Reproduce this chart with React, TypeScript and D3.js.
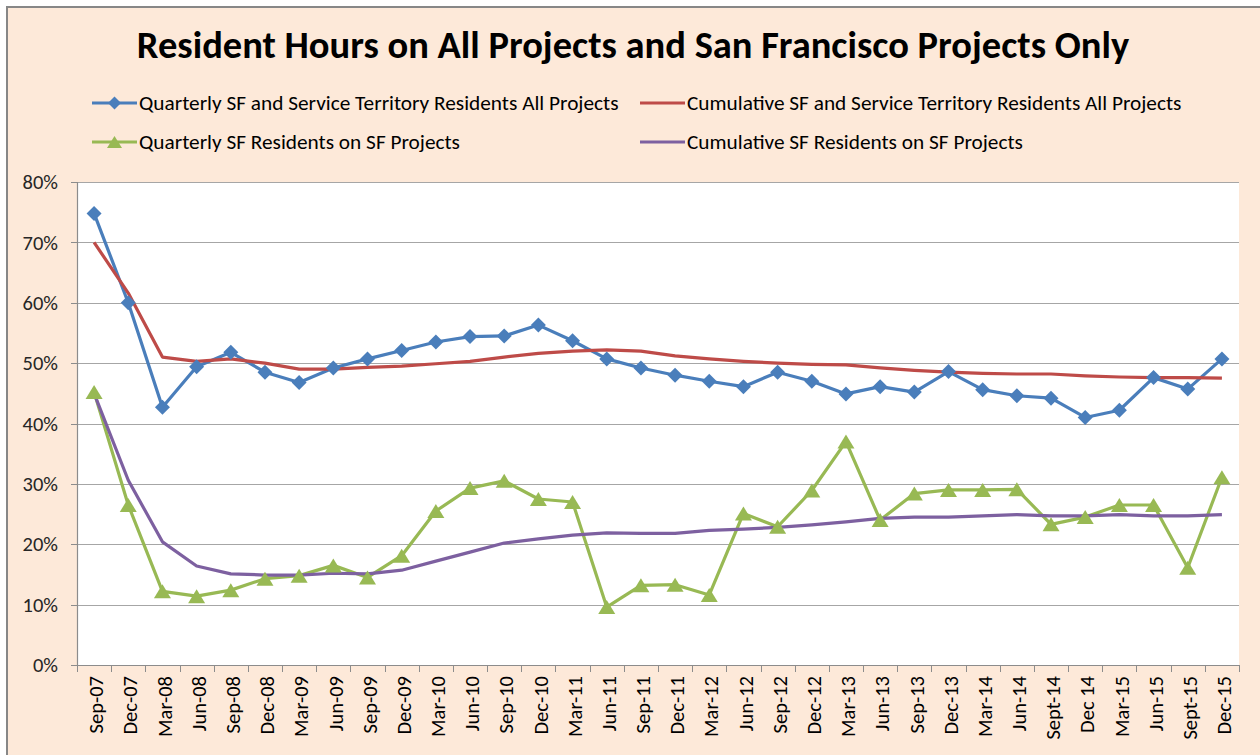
import React, { useEffect, useRef } from "react";
import * as d3 from "d3";

const quarters = [
  "Sep-07", "Dec-07", "Mar-08", "Jun-08", "Sep-08", "Dec-08", "Mar-09", "Jun-09",
  "Sep-09", "Dec-09", "Mar-10", "Jun-10", "Sep-10", "Dec-10", "Mar-11", "Jun-11",
  "Sep-11", "Dec-11", "Mar-12", "Jun-12", "Sep-12", "Dec-12", "Mar-13", "Jun-13",
  "Sep-13", "Dec-13", "Mar-14", "Jun-14", "Sept-14", "Dec 14", "Mar-15", "Jun-15",
  "Sept-15", "Dec-15",
];

// quarterly SF + service territory residents, all projects
const quarterlyAll = [
  0.748, 0.600, 0.427, 0.494, 0.518, 0.485, 0.468, 0.492, 0.507, 0.521, 0.535, 0.544,
  0.545, 0.563, 0.537, 0.507, 0.492, 0.480, 0.470, 0.461, 0.485, 0.470, 0.449, 0.461,
  0.452, 0.486, 0.456, 0.446, 0.442, 0.410, 0.422, 0.476, 0.457, 0.507,
];

const cumulativeAll = [
  0.700, 0.616, 0.510, 0.503, 0.507, 0.500, 0.490, 0.490, 0.493, 0.495, 0.499, 0.503,
  0.510, 0.516, 0.520, 0.522, 0.520, 0.512, 0.507, 0.503, 0.500, 0.498, 0.497, 0.492,
  0.488, 0.485, 0.483, 0.482, 0.482, 0.479, 0.477, 0.476, 0.476, 0.475,
];

const quarterlySF = [
  0.452, 0.265, 0.122, 0.114, 0.124, 0.143, 0.148, 0.165, 0.145, 0.181, 0.255, 0.293,
  0.305, 0.275, 0.270, 0.096, 0.132, 0.133, 0.116, 0.251, 0.229, 0.289, 0.370, 0.240,
  0.284, 0.290, 0.290, 0.291, 0.233, 0.245, 0.265, 0.265, 0.161, 0.311,
];

const cumulativeSF = [
  0.450, 0.306, 0.204, 0.164, 0.151, 0.149, 0.149, 0.152, 0.151, 0.157, 0.172, 0.187,
  0.202, 0.209, 0.215, 0.219, 0.218, 0.218, 0.223, 0.225, 0.228, 0.232, 0.237, 0.243,
  0.245, 0.245, 0.247, 0.249, 0.247, 0.247, 0.249, 0.247, 0.247, 0.249,
];

const yTicks = [0, 0.1, 0.2, 0.3, 0.4, 0.5, 0.6, 0.7, 0.8];

const series = [
  { name: "Quarterly SF and Service Territory Residents All Projects", values: quarterlyAll, color: "#4A7EBB", marker: "diamond" },
  { name: "Cumulative SF and Service Territory Residents All Projects", values: cumulativeAll, color: "#BE4B48", marker: "none" },
  { name: "Quarterly SF Residents on SF Projects", values: quarterlySF, color: "#98B954", marker: "triangle" },
  { name: "Cumulative SF Residents on SF Projects", values: cumulativeSF, color: "#7D60A0", marker: "none" },
];

const FONT = "Carlito, Calibri, 'Noto Sans', sans-serif";

const diamondPath = (r) => `M0,${-r}L${r},0L0,${r}L${-r},0Z`;
const trianglePath = (w, h) => `M0,${-h / 2}L${w / 2},${h / 2}L${-w / 2},${h / 2}Z`;

const Chart = () => {
  const svgRef = useRef(null);

  useEffect(() => {
    const width = 1260;
    const height = 755;
    const plot = { left: 77, right: 1239, top: 182, bottom: 665 };

    const svg = d3.select(svgRef.current).attr("width", width).attr("height", height);
    svg.selectAll("*").remove();

    // background + frame
    svg.append("rect").attr("width", width).attr("height", height).attr("fill", "#ffffff");
    svg.append("rect")
      .attr("x", 7).attr("y", 7)
      .attr("width", width + 20).attr("height", height + 20)
      .attr("fill", "#FDE9D9")
      .attr("stroke", "#878787").attr("stroke-width", 2);

    svg.append("rect")
      .attr("x", plot.left).attr("y", plot.top)
      .attr("width", plot.right - plot.left).attr("height", plot.bottom - plot.top)
      .attr("fill", "#ffffff");

    const x = d3.scaleBand().domain(quarters).range([plot.left, plot.right]).paddingInner(0).paddingOuter(0);
    const y = d3.scaleLinear().domain([0, 0.8]).range([plot.bottom, plot.top]);
    const cx = (i) => x(quarters[i]) + x.bandwidth() / 2;

    // gridlines
    svg.append("g")
      .selectAll("line")
      .data(yTicks.filter((t) => t > 0))
      .join("line")
      .attr("x1", plot.left).attr("x2", plot.right)
      .attr("y1", (d) => Math.round(y(d)) + 0.5).attr("y2", (d) => Math.round(y(d)) + 0.5)
      .attr("stroke", "#a6a6a6").attr("stroke-width", 1.2);

    // y axis
    const yAxis = svg.append("g");
    yAxis.append("line")
      .attr("x1", plot.left + 0.5).attr("x2", plot.left + 0.5)
      .attr("y1", plot.top).attr("y2", plot.bottom)
      .attr("stroke", "#8c8c8c").attr("stroke-width", 1.2);
    yAxis.selectAll("line.tick")
      .data(yTicks)
      .join("line")
      .attr("class", "tick")
      .attr("x1", plot.left - 6).attr("x2", plot.left)
      .attr("y1", (d) => Math.round(y(d)) + 0.5).attr("y2", (d) => Math.round(y(d)) + 0.5)
      .attr("stroke", "#8c8c8c");
    yAxis.selectAll("text")
      .data(yTicks)
      .join("text")
      .attr("x", plot.left - 19)
      .attr("y", (d) => y(d))
      .attr("dy", "0.35em")
      .attr("text-anchor", "end")
      .style("font-family", FONT)
      .style("font-size", "20.5px")
      .attr("fill", "#262626")
      .text((d) => d3.format(".0%")(d));

    // x axis
    const xAxis = svg.append("g");
    xAxis.append("line")
      .attr("x1", plot.left).attr("x2", plot.right)
      .attr("y1", plot.bottom + 0.5).attr("y2", plot.bottom + 0.5)
      .attr("stroke", "#8c8c8c").attr("stroke-width", 1.2);
    const bounds = quarters.map((q) => x(q)).concat([plot.right]);
    xAxis.selectAll("line.tick")
      .data(bounds)
      .join("line")
      .attr("class", "tick")
      .attr("x1", (d) => Math.round(d) + 0.5).attr("x2", (d) => Math.round(d) + 0.5)
      .attr("y1", plot.bottom).attr("y2", plot.bottom + 7)
      .attr("stroke", "#8c8c8c");
    xAxis.selectAll("text")
      .data(quarters)
      .join("text")
      .attr("transform", (d, i) => `translate(${cx(i) + 2},${plot.bottom + 11}) rotate(-90)`)
      .attr("dy", "0.35em")
      .attr("text-anchor", "end")
      .style("font-family", FONT)
      .style("font-size", "20.5px")
      .attr("fill", "#000")
      .text((d) => d);

    // lines
    const line = d3.line().x((d, i) => cx(i)).y((d) => y(d));
    series.forEach((s) => {
      svg.append("path")
        .datum(s.values)
        .attr("d", line)
        .attr("fill", "none")
        .attr("stroke", s.color)
        .attr("stroke-width", 3.2)
        .attr("stroke-linejoin", "round");
    });
    series.forEach((s) => {
      if (s.marker === "none") return;
      svg.append("g")
        .selectAll("path")
        .data(s.values)
        .join("path")
        .attr("transform", (d, i) => `translate(${cx(i)},${y(d)})`)
        .attr("d", s.marker === "diamond" ? diamondPath(7.5) : trianglePath(17, 14))
        .attr("fill", s.color);
    });

    // title
    svg.append("text")
      .attr("x", 633).attr("y", 58)
      .attr("text-anchor", "middle")
      .style("font-family", FONT)
      .style("font-size", "38.5px")
      .style("font-weight", "bold")
      .attr("fill", "#000")
      .text("Resident Hours on All Projects and San Francisco Projects Only");

    // legend
    const legendPos = [
      { x: 92, y: 103 },
      { x: 640, y: 103 },
      { x: 92, y: 142 },
      { x: 640, y: 142 },
    ];
    series.forEach((s, i) => {
      const p = legendPos[i];
      const g = svg.append("g").attr("transform", `translate(${p.x},${p.y})`);
      g.append("line")
        .attr("x1", 0).attr("x2", 45)
        .attr("stroke", s.color).attr("stroke-width", 3.2);
      if (s.marker !== "none") {
        g.append("path")
          .attr("transform", "translate(22.5,0)")
          .attr("d", s.marker === "diamond" ? diamondPath(6.5) : trianglePath(15, 12))
          .attr("fill", s.color);
      }
      g.append("text")
        .attr("x", 47).attr("dy", "0.35em")
        .style("font-family", FONT)
        .style("font-size", "21.3px")
        .attr("fill", "#000")
        .text(s.name);
    });
  }, []);

  return <svg ref={svgRef} style={{ position: "absolute", left: 0, top: 0, display: "block" }}></svg>;
};

export default function App() {
  return <Chart />;
}
